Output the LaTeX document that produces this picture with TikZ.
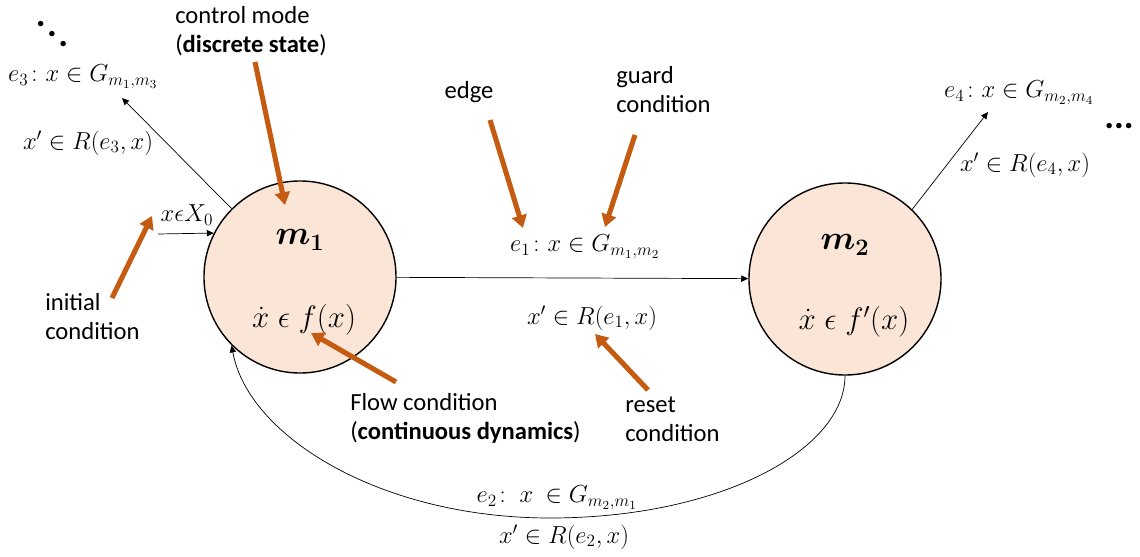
\RequirePackage{fix-cm}
\documentclass[tikz,border=0pt]{standalone}
\usepackage{amsmath}
\usepackage{bm}
\usepackage{fontspec}
\setmainfont{Carlito}
\usetikzlibrary{arrows.meta}

\begin{document}
\begin{tikzpicture}[x=0.025cm, y=-0.025cm,
    every node/.style={font=\fontsize{17.5}{20.6}\selectfont, inner sep=0pt},
    mode/.style={circle, draw=borderColour, line width=1pt, fill=fillColourMode, minimum size=4.8cm},
    modeName/.style={font=\fontsize{24}{26}\selectfont},
    flowText/.style={font=\fontsize{22}{24}\selectfont},
    edgeLine/.style={draw=borderColour, line width=0.5pt, -{Triangle[length=5pt,width=4.5pt]}},
    pointer/.style={draw=pointerColour, line width=3.6pt, -{Triangle[length=9pt,width=10.5pt]}},
    note/.style={align=left, anchor=west}]

    \definecolor{borderColour}{HTML}{000000}
    \definecolor{fillColourMode}{HTML}{FBE5D6}
    \definecolor{pointerColour}{HTML}{C55A11}

    % Fix the page size
    \useasboundingbox (0,0) rectangle (1140,557);

    % Control modes
    \node[mode] (m1) at (300,277) {};
    \node[mode] (m2) at (845,279) {};
    \node[modeName] (m1name) at (300,240) {$\bm{m_1}$};
    \node[modeName] (m2name) at (845,245) {$\bm{m_2}$};
    \node[flowText] (m1flow) at (304,320) {$\dot{x} \mathrel{\epsilon} f(x)$};
    \node[flowText] (m2flow) at (854,322) {$\dot{x} \mathrel{\epsilon} f'(x)$};

    % Initial condition
    \coordinate (initStart) at (158,234);
    \draw[edgeLine] (initStart) -- (m1.153);
    \node (init) at (187,215) {$x\epsilon X_0$};

    % Edge e1 from m1 to m2
    \draw[edgeLine] (m1) -- (m2);
    \node (e1guard) at (585,247) {$e_1\colon x \in G_{m_1,m_2}$};
    \node (e1reset) at (592,318) {$x' \in R(e_1,x)$};

    % Edge e2 from m2 back to m1
    \coordinate (e2low) at (550,518);
    \draw[edgeLine] (m2.south) .. controls (845,450) and (720,518) .. (e2low)
        .. controls (380,518) and (248,436) .. (m1.225);
    \node (e2guard) at (557,498) {$e_2\colon\ x\ \in G_{m_2,m_1}$};
    \node (e2reset) at (564,537) {$x' \in R(e_2,x)$};

    % Edge e3 leaving m1
    \coordinate (e3end) at (122,98);
    \draw[edgeLine] (m1.135) -- (e3end);
    \node (e3guard) at (83,77) {$e_3\colon x \in G_{m_1,m_3}$};
    \node (e3reset) at (88,143) {$x' \in R(e_3,x)$};
    \node[font=\fontsize{26}{28}\selectfont\bfseries] (dotsLeft) at (52,34)
        {.\kern0.04em\raisebox{-0.27em}{.}\kern0.04em\raisebox{-0.54em}{.}};

    % Edge e4 leaving m2
    \coordinate (e4end) at (988,112);
    \draw[edgeLine] (m2.46) -- (e4end);
    \node (e4guard) at (1019,93) {$e_4\colon x \in G_{m_2,m_4}$};
    \node (e4reset) at (1025,165) {$x' \in R(e_4,x)$};
    \node[font=\fontsize{26}{28}\selectfont] (dotsRight) at (1119,126) {\textbf{...}};

    % Explanations
    \node[note] (modeNote) at (175,31) {control mode\\(\textbf{discrete state})};
    \node[note] (initNote) at (45,317) {initial\\condition};
    \node (edgeNote) at (469,92) {edge};
    \node[note] (guardNote) at (616,90) {guard\\condition};
    \node[note] (flowNote) at (350,418) {Flow condition\\(\textbf{continuous dynamics})};
    \node[note] (resetNote) at (625,419) {reset\\condition};

    % Orange pointers
    \coordinate (modeTail) at (255,62);   \coordinate (modeTip) at (285,205);
    \coordinate (initTail) at (112,298);  \coordinate (initTip) at (152,216);
    \coordinate (flowTail) at (396,382);  \coordinate (flowTip) at (311,333);
    \coordinate (edgeTail) at (490,120);  \coordinate (edgeTip) at (523,228);
    \coordinate (guardTail) at (635,135); \coordinate (guardTip) at (605,227);
    \coordinate (resetTail) at (648,390); \coordinate (resetTip) at (595,334);
    \foreach \p in {mode,init,flow,edge,guard,reset}
        \draw[pointer] (\p Tail) -- (\p Tip);

\end{tikzpicture}
\end{document}
